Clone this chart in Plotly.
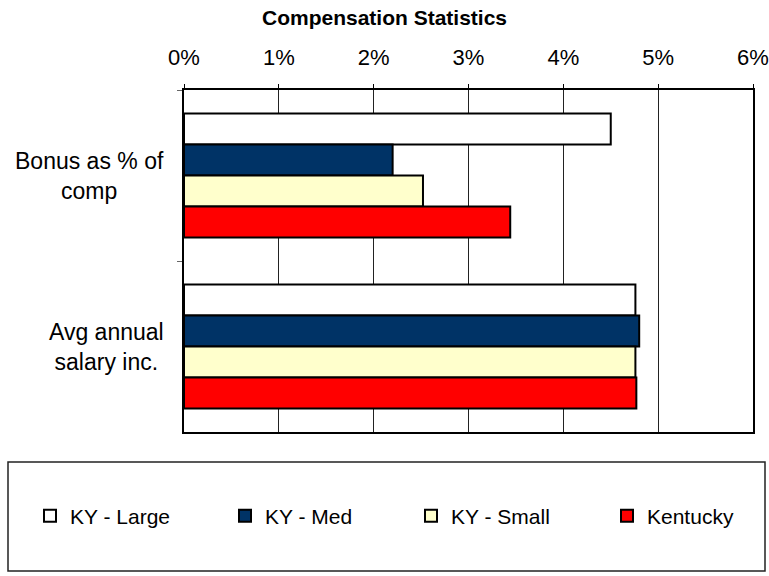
import plotly.graph_objects as go

# Compensation statistics (percent values)
categories = ["Bonus as % of comp", "Avg annual salary inc."]
category_labels = ["Bonus as % of<br>comp", "Avg annual<br>salary inc."]
series_names = ["KY - Large", "KY - Med", "KY - Small", "Kentucky"]
ky_large = [4.50, 4.76]
ky_med = [2.20, 4.80]
ky_small = [2.52, 4.76]
kentucky = [3.44, 4.77]
tick_values = [0, 1, 2, 3, 4, 5, 6]

series_values = [ky_large, ky_med, ky_small, kentucky]
colors = ["#FFFFFF", "#003366", "#FFFFCC", "#FF0000"]
legend_left_px = [30, 225, 411, 607]

FONT = "Arial, Liberation Sans, sans-serif"
W, H = 769, 576
L, R, T, B = 184, 16, 90, 144
PW, PH = W - L - R, H - T - B


def px_x(p):
    return (p - L) / PW


def px_y(p):
    return (H - B - p) / PH


fig = go.Figure()
legend_ids = ["legend", "legend2", "legend3", "legend4"]
for name, vals, col, lid in zip(series_names, series_values, colors, legend_ids):
    fig.add_trace(go.Bar(
        x=vals, y=categories, name=name, orientation="h",
        marker=dict(color=col, line=dict(color="#000000", width=2)),
        legend=lid,
    ))

# Category labels, each block centred on itself
for cat, lab in zip(categories, category_labels):
    fig.add_annotation(
        x=px_x(166), xref="paper", y=cat, yref="y",
        text=lab, showarrow=False, xanchor="right", yanchor="middle",
        align="center", font=dict(family=FONT, size=23, color="#000000"),
    )

# Legend frame
fig.add_shape(
    type="rect", xref="paper", yref="paper",
    x0=px_x(8), x1=px_x(765), y0=px_y(462), y1=px_y(571),
    line=dict(color="#222222", width=1.5), fillcolor="rgba(0,0,0,0)",
    layer="below",
)

legend_common = dict(
    orientation="h", xanchor="left", y=px_y(516), yanchor="middle",
    font=dict(family=FONT, size=21, color="#000000"),
    bgcolor="rgba(0,0,0,0)", borderwidth=0,
)
legend_layout = {
    lid: dict(x=px_x(lx), **legend_common)
    for lid, lx in zip(legend_ids, legend_left_px)
}

fig.update_layout(
    width=W, height=H,
    margin=dict(l=L, r=R, t=T, b=B, autoexpand=False),
    paper_bgcolor="#FFFFFF", plot_bgcolor="#FFFFFF",
    barmode="group", bargap=0.275, bargroupgap=0,
    font=dict(family=FONT, size=21, color="#000000"),
    title=dict(text="<b>Compensation Statistics</b>", x=0.5, xanchor="center",
               y=1 - 18 / H, yanchor="middle",
               font=dict(family=FONT, size=21, color="#000000")),
    showlegend=True,
    xaxis=dict(
        side="top", range=[0, 6], tickvals=tick_values,
        ticktext=[f"{v}%" for v in tick_values],
        showgrid=True, gridcolor="#222222", gridwidth=1,
        ticks="outside", ticklen=4, tickcolor="#000000",
        showline=True, linecolor="#000000", linewidth=2, mirror=True,
        zeroline=False, ticklabelstandoff=10,
        tickfont=dict(family=FONT, size=22, color="#000000"),
        fixedrange=True,
    ),
    yaxis=dict(
        autorange="reversed", showticklabels=False,
        ticks="outside", tickson="boundaries", ticklen=5,
        tickcolor="#666666",
        showline=True, linecolor="#000000", linewidth=2, mirror=True,
        showgrid=False, fixedrange=True,
    ),
    **legend_layout,
)

fig.write_html("out.html")
